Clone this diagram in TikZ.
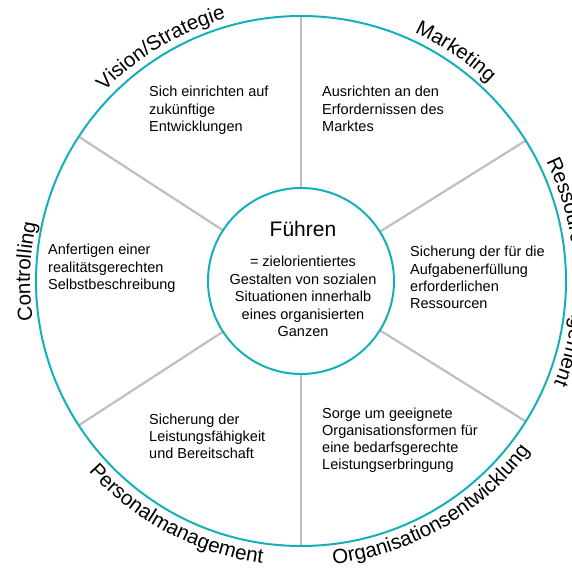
\documentclass[tikz,border=0pt]{standalone}
\usepackage{fontspec}
\setmainfont{Liberation Sans}
\usetikzlibrary{decorations.text,backgrounds}
\definecolor{ringcyan}{HTML}{14B0BA}
\definecolor{spokegray}{HTML}{BFBFBF}
\newcommand\lblfont{\fontsize{20.5}{24}\selectfont}
\tikzset{
  ring/.style={circle, draw=ringcyan, line width=2pt, inner sep=0pt, outer sep=0pt},
  spoke/.style={draw=spokegray, line width=2.2pt},
  body/.style={font=\fontsize{14.5}{17.3}\selectfont, inner sep=0pt, anchor=base west, align=left},
  coretext/.style={font=\fontsize{14.5}{17.5}\selectfont, inner sep=0pt, anchor=base, align=center},
  arclabel/.style={decorate, decoration={text along path, text={#1}, text align=center}},
}
\begin{document}
\begin{tikzpicture}[x=1pt,y=1pt]
\useasboundingbox (-301,-294) rectangle (270,281);
\node[ring, minimum size=530pt] (rim) at (0,0) {};
\node[ring, minimum size=186pt] (core) at (0,0) {};
\begin{scope}[on background layer]
  \foreach \a in {90,32.5,-32.5,-90,-147.5,147.5}
    \draw[spoke] (core.\a) -- (rim.\a);
\end{scope}
% centre (base anchor = baseline of the last line)
\node[font=\fontsize{21}{25}\selectfont, inner sep=0pt, anchor=base] (title) at (2,44) {Führen};
\node[coretext] (def) at (2,-56) {= zielorientiertes\\Gestalten von sozialen\\Situationen innerhalb\\eines organisierten\\Ganzen};
% sectors
\node[body] (tvision) at (-152,149.4) {Sich einrichten auf\\zukünftige\\Entwicklungen};
\node[body] (tmarket) at (21,149.4) {Ausrichten an den\\Erfordernissen des\\Marktes};
\node[body] (tress) at (109,-27.9) {Sicherung der für die\\Aufgabenerfüllung\\erforderlichen\\Ressourcen};
\node[body] (torg) at (21,-188.9) {Sorge um geeignete\\Organisationsformen für\\eine bedarfsgerechte\\Leistungserbringung};
\node[body] (tpers) at (-152,-177.6) {Sicherung der\\Leistungsfähigkeit\\und Bereitschaft};
\node[body] (tcontr) at (-253,-8.6) {Anfertigen einer\\realitätsgerechten\\Selbstbeschreibung};
% arc labels
\path[arclabel={|\lblfont|Vision/Strategie}] (148:273pt) arc[start angle=148, end angle=94, radius=273pt];
\path[arclabel={|\lblfont|Marketing}] (83:273pt) arc[start angle=83, end angle=29, radius=273pt];
\path[arclabel={|\lblfont|Ressourcenmanagement}] (32:273pt) arc[start angle=32, end angle=-28, radius=273pt];
\path[arclabel={|\lblfont|Controlling}] (208:271pt) arc[start angle=208, end angle=148, radius=271pt];
\path[arclabel={|\lblfont|Organisationsentwicklung}] (-92:285pt) arc[start angle=-92, end angle=-28, radius=285pt];
\path[arclabel={|\lblfont|Personalmanagement}] (-150:285pt) arc[start angle=-150, end angle=-86, radius=285pt];
\end{tikzpicture}
\end{document}
